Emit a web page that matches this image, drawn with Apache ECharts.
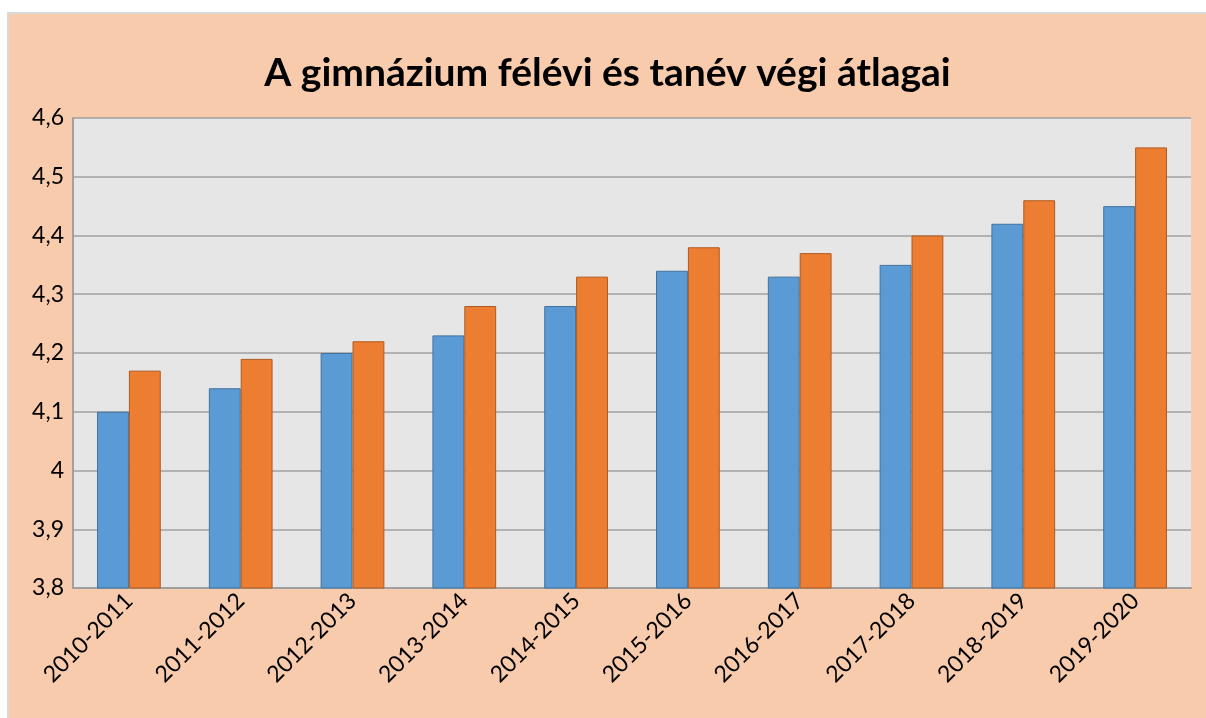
<!DOCTYPE html>
<html>
<head>
<meta charset="utf-8">
<script src="https://cdn.jsdelivr.net/npm/echarts@6/dist/echarts.min.js"></script>
<style>
  html, body { margin: 0; padding: 0; background: #fff; }
  #chart {
    position: absolute; left: 7px; top: 12px;
    width: 1197px; height: 704px;
    background: #F8CBAD;
    border-left: 2px solid #D9D9D9;
    border-top: 2px solid #D9D9D9;
  }
</style>
</head>
<body>
<div id="chart"></div>
<script>
const years = ['2010-2011', '2011-2012', '2012-2013', '2013-2014', '2014-2015',
  '2015-2016', '2016-2017', '2017-2018', '2018-2019', '2019-2020']
const felevi = [4.10, 4.14, 4.20, 4.23, 4.28, 4.34, 4.33, 4.35, 4.42, 4.45]
const tanevVegi = [4.17, 4.19, 4.22, 4.28, 4.33, 4.38, 4.37, 4.40, 4.46, 4.55]

const chart = echarts.init(document.getElementById('chart'))
chart.setOption({
  animation: false,
  textStyle: { fontFamily: 'Lato' },
  title: {
    text: 'A gimnázium félévi és tanév végi átlagai',
    left: 'center',
    top: 35,
    textStyle: { fontFamily: 'Lato', fontSize: 39, fontWeight: 'bold', color: '#000' }
  },
  grid: {
    left: 64, right: 15, top: 104, bottom: 130,
    show: true, backgroundColor: '#E7E6E6', borderWidth: 0
  },
  xAxis: {
    type: 'category',
    data: years,
    axisLine: { lineStyle: { color: '#A0A0A0', width: 2 } },
    axisTick: { show: false },
    axisLabel: { rotate: 45, fontSize: 23, color: '#000', margin: 9 }
  },
  yAxis: {
    type: 'value',
    min: 3.8, max: 4.6, interval: 0.1,
    axisLine: { show: true, lineStyle: { color: '#A0A0A0', width: 2 } },
    axisTick: { show: false },
    splitLine: { lineStyle: { color: '#A0A0A0', width: 1.5 } },
    axisLabel: {
      fontSize: 23, color: '#000', margin: 9,
      formatter: v => (Math.round(v * 10) / 10).toString().replace('.', ',')
    }
  },
  series: [
    {
      name: 'félévi', type: 'bar', data: felevi,
      barGap: '0%', barCategoryGap: '43%',
      itemStyle: { color: '#5B9BD5', borderColor: '#41719C', borderWidth: 1 }
    },
    {
      name: 'tanév végi', type: 'bar', data: tanevVegi,
      itemStyle: { color: '#ED7D31', borderColor: '#AE5A21', borderWidth: 1 }
    }
  ]
})
</script>
</body>
</html>
